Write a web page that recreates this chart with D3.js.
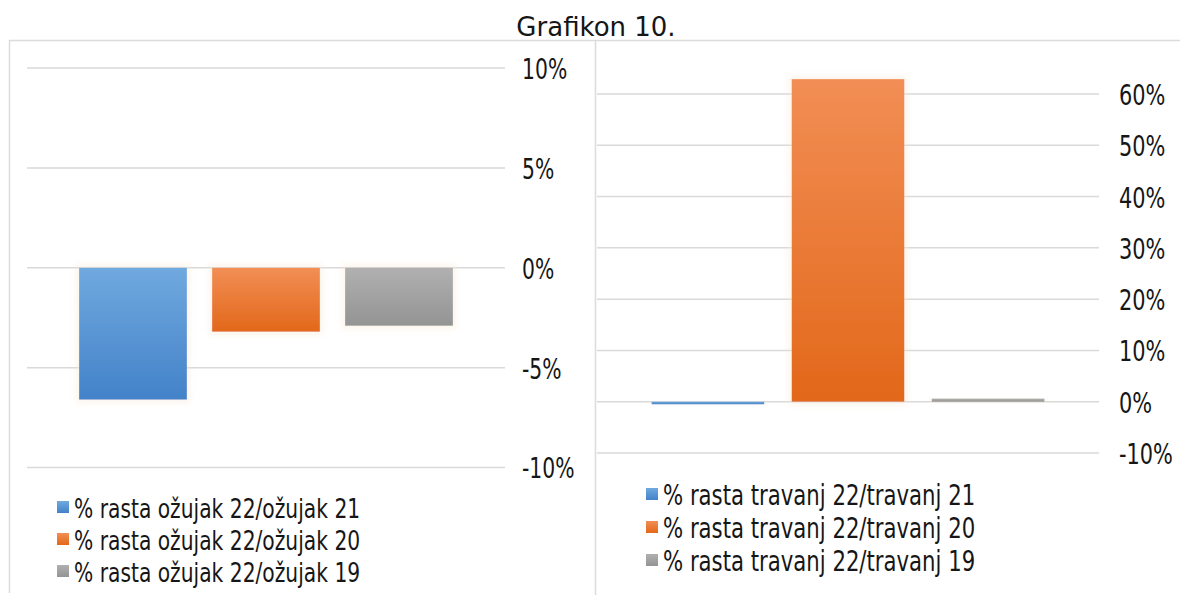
<!DOCTYPE html>
<html>
<head>
<meta charset="utf-8">
<script src="https://cdn.jsdelivr.net/npm/d3@7"></script>
<style>
  html, body { margin: 0; padding: 0; background: #fff; }
  svg { display: block; }
  text { font-family: "DejaVu Sans", Verdana, sans-serif; fill: #161616; }
</style>
</head>
<body>
<svg id="chart" width="1180" height="595"></svg>
<script>
// Growth rates (%) for March and April 2022 versus the same month in earlier years
const marchSeries = ["% rasta ožujak 22/ožujak 21", "% rasta ožujak 22/ožujak 20", "% rasta ožujak 22/ožujak 19"];
const marchValues = [-6.6, -3.2, -2.9];
const marchTicks = [-10, -5, 0, 5, 10];

const aprilSeries = ["% rasta travanj 22/travanj 21", "% rasta travanj 22/travanj 20", "% rasta travanj 22/travanj 19"];
const aprilValues = [-0.5, 62.9, 0.6];
const aprilTicks = [-10, 0, 10, 20, 30, 40, 50, 60];

const seriesColors = [
  { top: "#70a9df", bottom: "#4382c9" },
  { top: "#f28e55", bottom: "#e2681a" },
  { top: "#b0b0b0", bottom: "#949494" }
];

const svg = d3.select("#chart");
const defs = svg.append("defs");

seriesColors.forEach((c, i) => {
  const g = defs.append("linearGradient")
    .attr("id", "grad" + i)
    .attr("x1", 0).attr("y1", 0).attr("x2", 0).attr("y2", 1);
  g.append("stop").attr("offset", "0%").attr("stop-color", c.top);
  g.append("stop").attr("offset", "100%").attr("stop-color", c.bottom);
});

// soft pale halo around the bars
const glow = defs.append("filter").attr("id", "halo")
  .attr("x", "-20%").attr("y", "-20%").attr("width", "140%").attr("height", "140%");
glow.append("feMorphology").attr("in", "SourceAlpha").attr("operator", "dilate").attr("radius", 3).attr("result", "d");
glow.append("feGaussianBlur").attr("in", "d").attr("stdDeviation", 3).attr("result", "b");
glow.append("feFlood").attr("flood-color", "#f6e7d3").attr("flood-opacity", 0.45);
glow.append("feComposite").attr("in2", "b").attr("operator", "in").attr("result", "h");
const merge = glow.append("feMerge");
merge.append("feMergeNode").attr("in", "h");
merge.append("feMergeNode").attr("in", "SourceGraphic");

// Title
svg.append("text")
  .attr("x", 596).attr("y", 36)
  .attr("text-anchor", "middle")
  .style("font-size", "26px")
  .text("Grafikon 10.");

// Panel frames
const frame = svg.append("g").attr("stroke", "#dcdcdc").attr("stroke-width", 1.5).attr("fill", "none");
frame.append("line").attr("x1", 9).attr("x2", 1180).attr("y1", 40.5).attr("y2", 40.5);
frame.append("line").attr("x1", 9.5).attr("x2", 9.5).attr("y1", 40).attr("y2", 593);
frame.append("line").attr("x1", 595.5).attr("x2", 595.5).attr("y1", 40).attr("y2", 595);

function drawPanel(cfg) {
  const g = svg.append("g");
  const x = d3.scaleBand()
    .domain(cfg.series)
    .range(cfg.xRange)
    .paddingInner(cfg.padInner)
    .paddingOuter(cfg.padOuter);
  const y = d3.scaleLinear().domain(cfg.domain).range(cfg.yRange);

  // gridlines
  g.append("g").selectAll("line").data(cfg.ticks).join("line")
    .attr("x1", cfg.xRange[0]).attr("x2", cfg.xRange[1])
    .attr("y1", d => y(d)).attr("y2", d => y(d))
    .attr("stroke", "#d9d9d9").attr("stroke-width", 1.5);

  // value axis on the right side
  const axis = d3.axisRight(y).tickValues(cfg.ticks).tickSize(0).tickFormat(d => d + "%");
  const ax = g.append("g").attr("transform", `translate(${cfg.labelX},0)`).call(axis);
  ax.select(".domain").remove();
  ax.selectAll(".tick text")
    .attr("x", 0).attr("dy", "0.38em")
    .attr("fill", "#161616")
    .style("font-family", "'DejaVu Sans', Verdana, sans-serif")
    .style("font-size", cfg.font + "px")
    .attr("transform", `scale(${cfg.squeeze},1)`);

  // bars
  g.append("g").selectAll("rect").data(cfg.values).join("rect")
    .attr("x", (d, i) => x(cfg.series[i]))
    .attr("width", x.bandwidth())
    .attr("y", d => y(Math.max(0, d)))
    .attr("height", d => Math.abs(y(d) - y(0)))
    .attr("fill", (d, i) => `url(#grad${i})`)
    .attr("filter", "url(#halo)");

  // legend
  const lg = g.append("g").selectAll("g").data(cfg.series).join("g")
    .attr("transform", (d, i) => `translate(${cfg.legendX},${cfg.legendY + i * cfg.legendStep})`);
  lg.append("rect")
    .attr("x", 0).attr("y", -7).attr("width", 12).attr("height", 12)
    .attr("fill", (d, i) => `url(#grad${i})`);
  lg.append("text")
    .attr("transform", `translate(17,0) scale(${cfg.legendSqueeze},1)`)
    .attr("dy", "0.36em")
    .style("font-size", cfg.legendFont + "px")
    .text(d => d);
}

drawPanel({
  series: marchSeries, values: marchValues, ticks: marchTicks,
  domain: [-10, 10], yRange: [467.5, 68],
  xRange: [27, 505], padInner: 0.19, padOuter: 0.392,
  labelX: 522, font: 27.5, squeeze: 0.74,
  legendX: 57, legendY: 508, legendStep: 32, legendFont: 27, legendSqueeze: 0.75
});

drawPanel({
  series: aprilSeries, values: aprilValues, ticks: aprilTicks,
  domain: [-10, 60], yRange: [453, 94],
  xRange: [597, 1099], padInner: 0.196, padOuter: 0.39,
  labelX: 1119, font: 27.5, squeeze: 0.76,
  legendX: 646, legendY: 495, legendStep: 33, legendFont: 28, legendSqueeze: 0.758
});
</script>
</body>
</html>
